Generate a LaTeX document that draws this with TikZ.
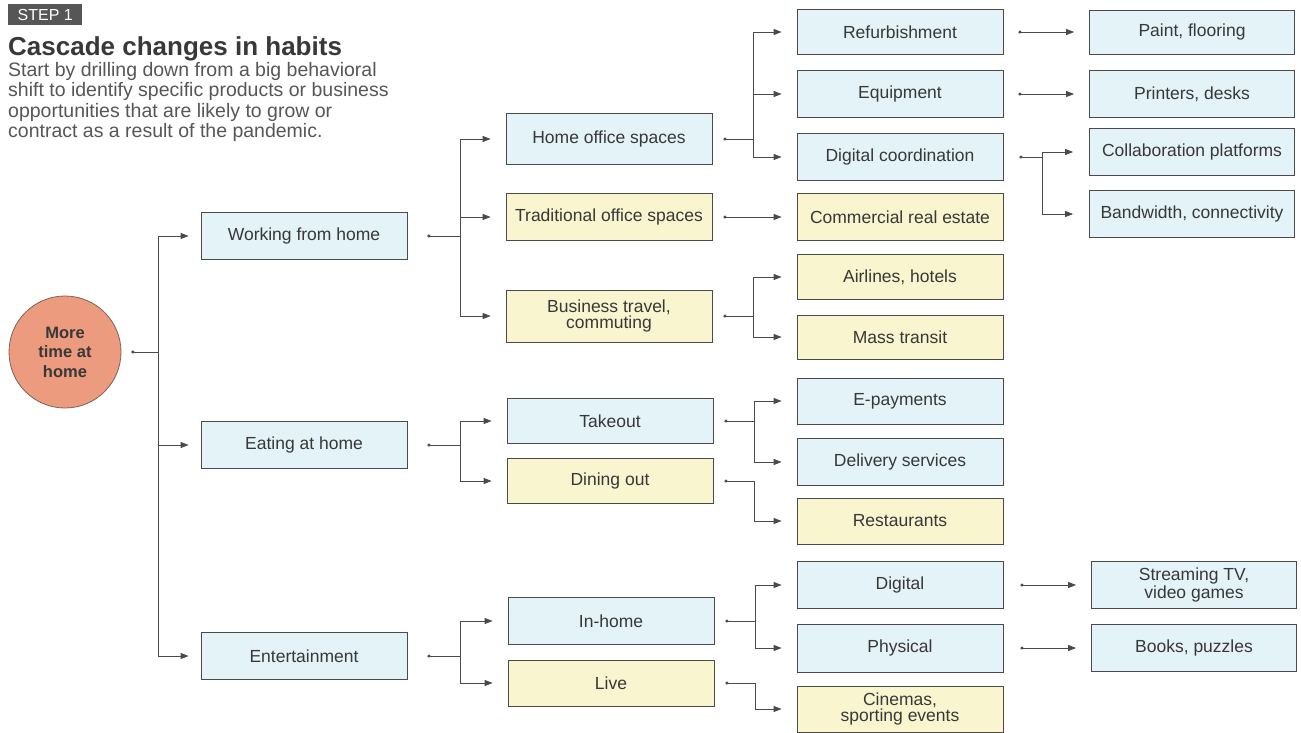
\documentclass[tikz,border=0pt]{standalone}
\usepackage{fontspec}
\setmainfont{Liberation Sans}
\usetikzlibrary{arrows.meta}
\definecolor{boxblue}{HTML}{E3F3F8}
\definecolor{boxyellow}{HTML}{F8F5CF}
\definecolor{rootfill}{HTML}{EC9B7F}
\definecolor{ink}{HTML}{383838}
\definecolor{wire}{HTML}{4A4A4A}

\begin{document}
\begin{tikzpicture}[x=1pt,y=-1pt,
        every node/.style={inner sep=0pt, text=ink},
        stage/.style={draw=wire, line width=0.8pt, minimum width=206pt, minimum height=47pt,
                align=center, font=\fontsize{17.5}{15.5}\selectfont},
        growbox/.style={stage, fill=boxblue},
        shrinkbox/.style={stage, fill=boxyellow},
        stub/.style={draw=wire, line width=0.8pt, {Circle[length=3pt]}-},
        feed/.style={draw=wire, line width=0.8pt, -{Triangle[length=8pt,width=6pt]}},
        link/.style={draw=wire, line width=0.8pt, {Circle[length=3pt]}-{Triangle[length=8pt,width=6pt]}}]
        \useasboundingbox (0,0) rectangle (1301,732);
        % header
        \node[fill=ink!85, text=white, minimum width=74pt, minimum height=21pt, anchor=north west,
                font=\fontsize{16}{16}\selectfont] (step) at (8,4) {STEP 1};
        \node[anchor=base west, font=\bfseries\fontsize{26}{28}\selectfont] (title) at (8,55) {Cascade changes in habits};
        \node[anchor=north west, align=left, text=ink!85, font=\fontsize{19.5}{20.4}\selectfont] (blurb) at (8,62)
                {Start by drilling down from a big behavioral\\shift to identify specific products or business\\opportunities that are likely to grow or\\contract as a result of the pandemic.};
        % root
        \node[circle, draw=wire!70!rootfill, line width=0.8pt, fill=rootfill, minimum size=112pt, align=center,
                font=\bfseries\fontsize{16.5}{19.5}\selectfont] (root) at (65,352) {More\\time at\\home};
        % first level
        \node[growbox] (whome) at (304,236) {Working from home};
        \node[growbox] (eathome) at (304,445) {Eating at home};
        \node[growbox] (enter) at (304,656) {Entertainment};
        % second level
        \node[growbox, minimum height=51pt] (homeoff) at (609,139) {Home office spaces};
        \node[shrinkbox] (tradoff) at (609,217) {Traditional office spaces};
        \node[shrinkbox, minimum height=52pt] (travel) at (609,316) {Business travel,\\commuting};
        \node[growbox, minimum height=45pt] (takeout) at (610,421) {Takeout};
        \node[shrinkbox, minimum height=45pt] (dining) at (610,481) {Dining out};
        \node[growbox] (inhome) at (611,621) {In-home};
        \node[shrinkbox, minimum height=46pt] (live) at (611,683) {Live};
        % third level
        \node[growbox, minimum height=45pt] (refurb) at (900,32) {Refurbishment};
        \node[growbox] (equip) at (900,94) {Equipment};
        \node[growbox] (digcoord) at (900,157) {Digital coordination};
        \node[shrinkbox] (commre) at (900,217) {Commercial real estate};
        \node[shrinkbox, minimum height=45pt] (airline) at (900,277) {Airlines, hotels};
        \node[shrinkbox, minimum height=44pt] (transit) at (900,337) {Mass transit};
        \node[growbox, minimum height=46pt] (epay) at (900,401) {E-payments};
        \node[growbox] (deliver) at (900,462) {Delivery services};
        \node[shrinkbox, minimum height=46pt] (restau) at (900,521) {Restaurants};
        \node[growbox] (digital) at (900,585) {Digital};
        \node[growbox, minimum height=48pt] (physical) at (900,648) {Physical};
        \node[shrinkbox, minimum height=46pt] (cinema) at (900,709) {Cinemas,\\sporting events};
        % fourth level
        \node[growbox, minimum width=205pt, minimum height=44pt] (paint) at (1192,32) {Paint, flooring};
        \node[growbox, minimum width=205pt] (printer) at (1192,94) {Printers, desks};
        \node[growbox, minimum width=205pt] (collab) at (1192,152) {Collaboration platforms};
        \node[growbox, minimum width=205pt] (bandw) at (1192,214) {Bandwidth, connectivity};
        \node[growbox, minimum width=205pt] (stream) at (1194,585) {Streaming TV,\\video games};
        \node[growbox, minimum width=205pt] (books) at (1194,648) {Books, puzzles};
        % forks
        \draw[stub] ([xshift=10pt]root.east) -- ++(27pt,0) coordinate (rootfork);
        \foreach \kid in {whome,eathome,enter}
                \draw[feed] (rootfork) |- ([xshift=-12pt]\kid.west);
        \draw[stub] ([xshift=20pt]whome.east) -- ++(33pt,0) coordinate (whfork);
        \foreach \kid in {homeoff,tradoff,travel}
                \draw[feed] (whfork) |- ([xshift=-15pt]\kid.west);
        \draw[stub] ([xshift=20pt]eathome.east) -- ++(33pt,0) coordinate (eafork);
        \foreach \kid in {takeout,dining}
                \draw[feed] (eafork) |- ([xshift=-15pt]\kid.west);
        \draw[stub] ([xshift=20pt]enter.east) -- ++(33pt,0) coordinate (enfork);
        \foreach \kid in {inhome,live}
                \draw[feed] (enfork) |- ([xshift=-15pt]\kid.west);
        \draw[stub] ([xshift=11pt]homeoff.east) -- ++(30pt,0) coordinate (hofork);
        \foreach \kid in {refurb,equip,digcoord}
                \draw[feed] (hofork) |- ([xshift=-15pt]\kid.west);
        \draw[link] ([xshift=11pt]tradoff.east) -- ([xshift=-15pt]commre.west);
        \draw[stub] ([xshift=11pt]travel.east) -- ++(30pt,0) coordinate (trfork);
        \foreach \kid in {airline,transit}
                \draw[feed] (trfork) |- ([xshift=-15pt]\kid.west);
        \draw[stub] ([xshift=11pt]takeout.east) -- ++(30pt,0) coordinate (tofork);
        \foreach \kid in {epay,deliver}
                \draw[feed] (tofork) |- ([xshift=-15pt]\kid.west);
        \draw[stub] ([xshift=11pt]dining.east) -- ++(30pt,0) coordinate (dofork);
        \draw[feed] (dofork) |- ([xshift=-15pt]restau.west);
        \draw[stub] ([xshift=11pt]inhome.east) -- ++(30pt,0) coordinate (ihfork);
        \foreach \kid in {digital,physical}
                \draw[feed] (ihfork) |- ([xshift=-15pt]\kid.west);
        \draw[stub] ([xshift=11pt]live.east) -- ++(30pt,0) coordinate (lvfork);
        \draw[feed] (lvfork) |- ([xshift=-15pt]cinema.west);
        % last level
        \draw[link] ([xshift=15pt]refurb.east) -- ([xshift=-15pt]paint.west);
        \draw[link] ([xshift=15pt]equip.east) -- ([xshift=-15pt]printer.west);
        \draw[stub] ([xshift=16pt]digcoord.east) -- ++(23pt,0) coordinate (dcfork);
        \foreach \kid in {collab,bandw}
                \draw[feed] (dcfork) |- ([xshift=-16pt]\kid.west);
        \draw[link] ([xshift=17pt]digital.east) -- ([xshift=-15pt]stream.west);
        \draw[link] ([xshift=17pt]physical.east) -- ([xshift=-15pt]books.west);
\end{tikzpicture}
\end{document}
